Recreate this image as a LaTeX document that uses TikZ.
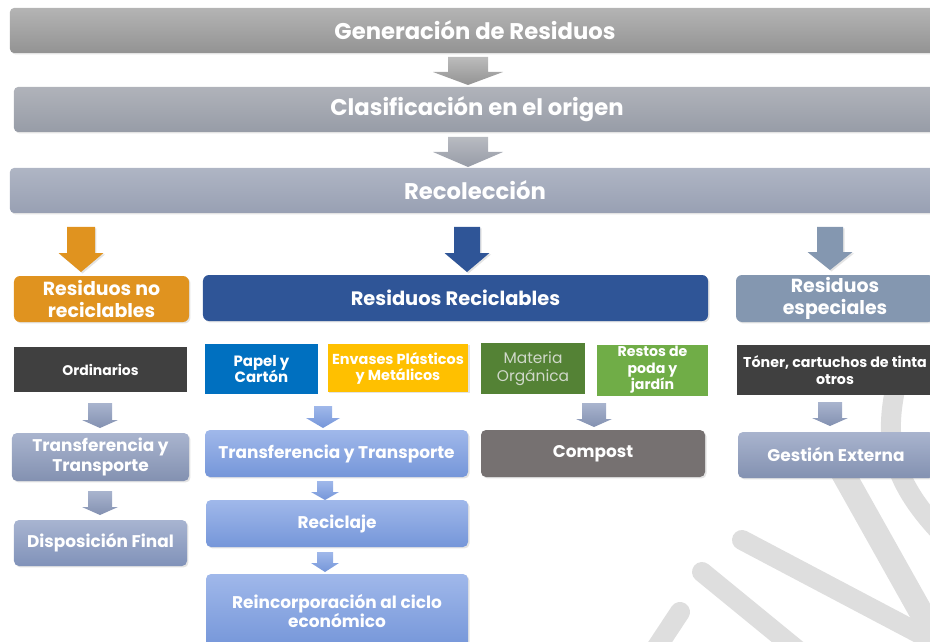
\documentclass[tikz,border=0pt]{standalone}
\usepackage{fontspec}
\setmainfont{Poppins}
\usetikzlibrary{shadows}
\definecolor{wmgray}{HTML}{DEDEDE}
\definecolor{genT}{HTML}{B4B4B4}\definecolor{genB}{HTML}{939393}
\definecolor{claT}{HTML}{B0B3BA}\definecolor{claB}{HTML}{979CA7}
\definecolor{recT}{HTML}{AFB5C4}\definecolor{recB}{HTML}{98A0B3}
\definecolor{orangeC}{HTML}{E0931F}
\definecolor{blueC}{HTML}{2F5597}
\definecolor{especC}{HTML}{8497B0}
\definecolor{darkC}{HTML}{404040}
\definecolor{papelC}{HTML}{0070C0}
\definecolor{envC}{HTML}{FFC000}
\definecolor{matC}{HTML}{548235}
\definecolor{restC}{HTML}{70AD47}
\definecolor{compC}{HTML}{767171}
\definecolor{gbT}{HTML}{A9B4CE}\definecolor{gbB}{HTML}{8391B1}
\definecolor{lbT}{HTML}{A0B8EA}\definecolor{lbB}{HTML}{7596D9}
\definecolor{matText}{HTML}{D0D8CA}
\newcommand\dnarrow[7]{%
  \path[#7] (#1-#3,#2) -- (#1+#3,#2) -- (#1+#3,#2+#5) -- (#1+#4,#2+#5)
    -- (#1,#2+#6) -- (#1-#4,#2+#5) -- (#1-#3,#2+#5) -- cycle;}
\begin{document}
\begin{tikzpicture}[x=1bp,y=-1bp,
  shad/.style={drop shadow={opacity=0.22,shadow xshift=1.5pt,shadow yshift=-1.5pt}},
  box/.style={inner sep=0pt,align=center,text=white,font=\bfseries},
  bar/.style={box,rounded corners=4bp,shad,font=\bfseries\fontsize{22.8}{26}\selectfont},
  head/.style={box,rounded corners=6bp,shad,font=\bfseries\fontsize{19}{22}\selectfont},
  cat/.style={box,font=\bfseries\fontsize{14.5}{16}\selectfont},
  step2/.style={box,rounded corners=5bp,shad,font=\bfseries\fontsize{17}{20}\selectfont},
  grayarrow/.style={top color=genT!90!white,bottom color=genB},
  gbarrow/.style={top color=gbT,bottom color=gbB},
  lbarrow/.style={top color=lbT,bottom color=lbB},
  wm/.style={draw=wmgray,line width=20bp,line cap=round}]
\useasboundingbox (0,0) rectangle (930,642);
% watermark
\draw[wm] (742,540) -- (960,655);
\draw[wm] (702,572) -- (812,662);
\draw[wm] (680,612) -- (645,665);
\draw[wm,line width=24bp,line cap=butt] (830,450) -- (945,655);
\draw[wm,line width=20bp,line cap=butt] (896,385) .. controls (884,440) and (890,482) .. (948,540);
% top bars
\node[bar,top color=genT,bottom color=genB,minimum width=930bp,minimum height=45bp] (gen) at (475,30.5) {Generación de Residuos};
\node[bar,top color=claT,bottom color=claB,minimum width=926bp,minimum height=45bp] (cla) at (477,109.5) {Clasificación en el origen};
\node[bar,top color=recT,bottom color=recB,minimum width=930bp,minimum height=45bp] (rec) at (475,190.5) {Recolección};
\dnarrow{468}{57}{20}{35}{15}{28}{grayarrow}
\dnarrow{468}{137}{20}{35}{15}{30}{top color=claT!90!white,bottom color=claB}
% category arrows
\dnarrow{81}{227}{14}{22.5}{26}{45}{fill=orangeC,shad}
\dnarrow{467}{227}{13}{22.5}{26}{45}{fill=blueC,shad}
\dnarrow{830}{227}{13}{22.5}{25}{43}{fill=especC,shad}
% category headers
\node[head,fill=orangeC,minimum width=175bp,minimum height=46bp] (nrec) at (101.5,299) {Residuos no\\reciclables};
\node[head,fill=blueC,minimum width=505bp,minimum height=46bp,font=\bfseries\fontsize{19.5}{22}\selectfont] (rrec) at (455.5,298) {Residuos Reciclables};
\node[head,fill=especC,minimum width=198bp,minimum height=47bp] (resp) at (835,298.5) {Residuos\\especiales};
% types
\node[cat,fill=darkC,minimum width=173bp,minimum height=45bp,font=\bfseries\fontsize{14}{16}\selectfont] (ord) at (100.5,369.5) {Ordinarios};
\node[cat,fill=papelC,minimum width=113bp,minimum height=50bp,font=\bfseries\fontsize{15}{17}\selectfont] (pap) at (261.5,369) {Papel y\\Cartón};
\node[cat,fill=envC,shad,minimum width=140bp,minimum height=48bp] (env) at (398,368) {Envases Plásticos\\y Metálicos};
\node[cat,fill=matC,minimum width=104bp,minimum height=51bp,font=\fontsize{15.5}{18}\selectfont,text=matText] (mat) at (533,368.5) {Materia\\Orgánica};
\node[cat,fill=restC,minimum width=111bp,minimum height=51bp,font=\bfseries\fontsize{14.2}{16.5}\selectfont] (res) at (652.5,370) {Restos de\\poda y\\jardín};
\node[cat,fill=darkC,minimum width=196bp,minimum height=50bp,font=\bfseries\fontsize{14.3}{16.5}\selectfont] (ton) at (835,370) {Tóner, cartuchos de tinta\\otros};
% small arrows
\dnarrow{100}{403}{12}{18}{17}{25}{gbarrow}
\dnarrow{323}{406}{9}{17}{12}{22}{lbarrow}
\dnarrow{594}{403}{12}{18}{16}{24}{gbarrow}
\dnarrow{830}{402}{12}{18}{16}{24}{gbarrow}
% second level
\node[step2,top color=gbT,bottom color=gbB,minimum width=177bp,minimum height=48bp] (tr1) at (100.5,457) {Transferencia y\\Transporte};
\node[step2,top color=lbT,bottom color=lbB,minimum width=263bp,minimum height=47bp] (tr2) at (336.5,453.5) {Transferencia y Transporte};
\node[step2,fill=compC,minimum width=224bp,minimum height=47bp] (com) at (593,453.5) {Compost};
\node[step2,top color=gbT,bottom color=gbB,minimum width=196bp,minimum height=46bp] (ges) at (836,455) {Gestión Externa};
\dnarrow{100}{491}{12}{18}{16}{24}{gbarrow}
\dnarrow{325}{481}{8}{14}{11}{19}{lbarrow}
\dnarrow{325}{552}{8}{14}{11}{20}{lbarrow}
\node[step2,top color=gbT!90!lbT,bottom color=gbB!80!lbB,minimum width=173bp,minimum height=46bp] (dis) at (100.5,543) {Disposición Final};
\node[step2,top color=lbT,bottom color=lbB,minimum width=262bp,minimum height=47bp] (rcl) at (337,523.5) {Reciclaje};
\node[step2,top color=lbT,bottom color=lbB,minimum width=262bp,minimum height=74bp] (rei) at (337,611) {Reincorporación al ciclo\\económico};
\end{tikzpicture}
\end{document}
